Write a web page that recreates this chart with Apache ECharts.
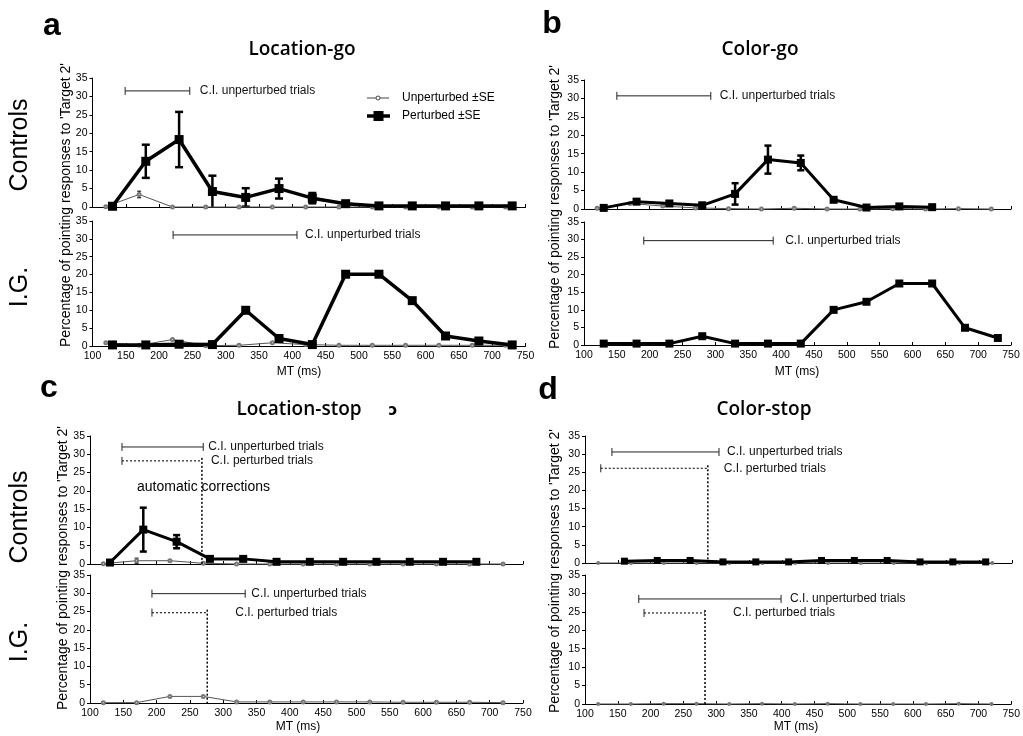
<!DOCTYPE html>
<html>
<head>
<meta charset="utf-8">
<script src="https://cdn.jsdelivr.net/npm/echarts@6/dist/echarts.min.js"></script>
<style>
  html, body { margin: 0; padding: 0; background: #fff; }
  #chart { width: 1023px; height: 736px; }
</style>
</head>
<body>
<div id="chart"></div>
<script>
// bin centres (ms)
const pertX = [130, 180, 230, 280, 330, 380, 430, 480, 530, 580, 630, 680, 730]
const unpertX = [120, 170, 220, 270, 320, 370, 420, 470, 520, 570, 620, 670, 720]
const dCtrlPertX = [160, 210, 260, 310, 360, 410, 460, 510, 560, 610, 660, 710]

// a - Location-go
const aCtrlPert = [0.2, 12.4, 18.3, 4.2, 2.6, 5.0, 2.4, 0.9, 0.3, 0.3, 0.3, 0.3, 0.3]
const aCtrlPertSE = [0, 4.5, 7.5, 4.3, 2.5, 2.7, 1.4, 0.3, 0, 0, 0, 0, 0]
const aCtrlUnpert = [0.1, 3.4, 0, 0, 0, 0, 0, 0, 0, 0, 0, 0, 0]
const aCtrlUnpertSE = [0, 0.9, 0, 0, 0, 0, 0, 0, 0, 0, 0, 0, 0]
const aIGPert = [0.3, 0.3, 0.5, 0.4, 10.0, 2.1, 0.4, 20.1, 20.1, 12.7, 2.8, 1.4, 0.3]
const aIGUnpert = [0.9, 0.2, 1.8, 0.1, 0.2, 0.9, 0.4, 0.2, 0.2, 0.2, 0.2, 0.2, 0.2]

// b - Color-go
const bCtrlPert = [0.3, 2.0, 1.5, 1.0, 4.1, 13.4, 12.5, 2.5, 0.4, 0.7, 0.5]
const bCtrlPertSE = [0, 0.6, 0.6, 0.6, 2.9, 3.8, 2.0, 0.5, 0, 0, 0]
const bCtrlUnpert = [0.2, 1.5, 0.8, 0.3, 0.1, 0, 0.2, 0, 0, 0.1, 0, 0.1, 0]
const bIGPert = [0.4, 0.4, 0.4, 2.5, 0.4, 0.4, 0.4, 10.0, 12.3, 17.5, 17.5, 4.9, 2.0]

// c - Location-stop
const cCtrlPert = [0.4, 9.4, 6.1, 1.4, 1.4, 0.6, 0.6, 0.6, 0.6, 0.6, 0.6, 0.6]
const cCtrlPertSE = [0, 6.0, 1.8, 0.4, 0.5, 0, 0, 0, 0, 0, 0, 0]
const cCtrlUnpert = [0.1, 0.9, 0.9, 0.2, 0, 0, 0, 0, 0, 0, 0, 0, 0]
const cCtrlUnpertSE = [0, 0.7, 0.3, 0, 0, 0, 0, 0, 0, 0, 0, 0, 0]
const cIGUnpert = [0.1, 0.1, 1.8, 1.8, 0.3, 0.3, 0.3, 0.3, 0.3, 0.2, 0.2, 0.2, 0.1]

// d - Color-stop
const dCtrlPert = [0.5, 0.7, 0.7, 0.3, 0.3, 0.3, 0.7, 0.7, 0.7, 0.3, 0.3, 0.3]
const dCtrlUnpert = [0, 0, 0, 0, 0, 0, 0, 0, 0, 0, 0, 0, 0]
const dIGUnpert = [0, 0, 0.1, 0.1, 0, 0.1, 0, 0.1, 0, 0, 0, 0.1, 0]

// confidence intervals (ms), per sub-plot: aCtrl, aIG, bCtrl, bIG, cCtrl, cIG, dCtrl, dIG
const ciUnpertLo = [149, 221, 150, 191, 148, 193, 141, 182]
const ciUnpertHi = [246, 407, 293, 388, 270, 333, 304, 399]
const ciPertLo = [null, null, null, null, 148, 193, 124, 190]
const ciPertHi = [null, null, null, null, 268, 276, 287, 283]

// layout of the annotation bars (y level in axis units, label gap in px)
const ciUnpertLevel = [31.5, 31.1, 30.7, 29.7, 32.0, 29.9, 30.6, 28.5]
const ciUnpertGap = [10, 8, 9, 12, 5, 6, 8, 9]
const ciPertLevel = [null, null, null, null, 28.2, 24.7, 26.1, 24.7]
const ciPertGap = [null, null, null, null, 9, 28, 16, 28]

const FONT = '"Liberation Sans", Arial, sans-serif'

const grids = [
  {left: 92.5, top: 78, width: 433, height: 129},
  {left: 92.5, top: 221, width: 433, height: 125},
  {left: 584, top: 80, width: 427, height: 129},
  {left: 584, top: 222, width: 427, height: 123},
  {left: 90, top: 436, width: 433, height: 128},
  {left: 90, top: 575, width: 433, height: 128},
  {left: 585, top: 436, width: 427, height: 127},
  {left: 585, top: 575, width: 427, height: 129}
]

const xAxes = grids.map((g, i) => ({
  type: 'value', gridIndex: i, min: 100, max: 750, interval: 50,
  axisLine: {onZero: false, lineStyle: {color: '#000', width: 1}},
  axisTick: {inside: true, length: 3, lineStyle: {color: '#000'}},
  axisLabel: {show: i % 2 === 1, fontSize: 10.5, color: '#000', fontFamily: FONT, margin: 5},
  splitLine: {show: false}
}))

const yAxes = grids.map((g, i) => ({
  type: 'value', gridIndex: i, min: 0, max: 35, interval: 5,
  axisLine: {show: true, lineStyle: {color: '#000', width: 1}},
  axisTick: {show: true, length: 3, lineStyle: {color: '#000'}},
  axisLabel: {fontSize: 10.5, color: '#000', fontFamily: FONT, margin: 5},
  splitLine: {show: false}
}))

function lineSeries (g, xs, ys, pert, size, width) {
  return {
    type: 'line', xAxisIndex: g, yAxisIndex: g, silent: true, clip: false,
    data: ys.map((y, i) => [xs[i], y]),
    symbol: pert ? 'rect' : 'emptyCircle', symbolSize: size,
    lineStyle: {color: pert ? '#000' : '#555', width: width},
    itemStyle: {color: pert ? '#000' : '#777', borderWidth: pert ? 0 : 1},
    z: pert ? 4 : 3
  }
}

function errSeries (g, xs, ys, se, lw, cap) {
  return {
    type: 'custom', xAxisIndex: g, yAxisIndex: g, silent: true, z: 2,
    data: ys.map((y, i) => [xs[i], y, se[i]]),
    encode: {x: 0, y: 1},
    renderItem: (params, api) => {
      const x = api.value(0), y = api.value(1), s = api.value(2)
      if (!s) return null
      const lo = Math.max(0, y - s)
      const t = api.coord([x, y + s])
      const b = api.coord([x, lo])
      const st = {stroke: '#000', lineWidth: lw}
      const ch = [
        {type: 'line', shape: {x1: t[0], y1: t[1], x2: b[0], y2: b[1]}, style: st},
        {type: 'line', shape: {x1: t[0] - cap / 2, y1: t[1], x2: t[0] + cap / 2, y2: t[1]}, style: st}
      ]
      if (lo > 0) ch.push({type: 'line', shape: {x1: b[0] - cap / 2, y1: b[1], x2: b[0] + cap / 2, y2: b[1]}, style: st})
      return {type: 'group', children: ch}
    }
  }
}

function ciSeries (g, lo, hi, level, dotted, text, gap) {
  return {
    type: 'custom', xAxisIndex: g, yAxisIndex: g, silent: true, z: 5,
    data: [[lo, hi, level]],
    renderItem: (params, api) => {
      const p0 = api.coord([api.value(0), api.value(2)])
      const p1 = api.coord([api.value(1), api.value(2)])
      const base = api.coord([api.value(1), 0])
      const solid = {stroke: '#222', lineWidth: 1}
      const ch = [
        {type: 'line', shape: {x1: p0[0], y1: p0[1], x2: p1[0], y2: p1[1]},
          style: dotted ? {stroke: '#222', lineWidth: 1.2, lineDash: [2, 2]} : solid},
        {type: 'line', shape: {x1: p0[0], y1: p0[1] - 4, x2: p0[0], y2: p0[1] + 4}, style: solid}
      ]
      if (dotted) {
        ch.push({type: 'line', shape: {x1: p1[0], y1: p1[1] - 3, x2: base[0], y2: base[1]},
          style: {stroke: '#000', lineWidth: 1.5, lineDash: [2, 2]}})
      } else {
        ch.push({type: 'line', shape: {x1: p1[0], y1: p1[1] - 4, x2: p1[0], y2: p1[1] + 4}, style: solid})
      }
      ch.push({type: 'text', x: p1[0] + gap, y: p1[1],
        style: {text: text, font: '12px ' + FONT, fill: '#111', textVerticalAlign: 'middle', verticalAlign: 'middle'}})
      return {type: 'group', children: ch}
    }
  }
}

const series = [
  // a
  errSeries(0, pertX, aCtrlPert, aCtrlPertSE, 2.5, 8),
  errSeries(0, unpertX, aCtrlUnpert, aCtrlUnpertSE, 1, 4),
  lineSeries(0, unpertX, aCtrlUnpert, false, 3, 1),
  lineSeries(0, pertX, aCtrlPert, true, 9, 3.5),
  lineSeries(1, unpertX, aIGUnpert, false, 3, 1),
  lineSeries(1, pertX, aIGPert, true, 9, 3.5),
  // b
  errSeries(2, pertX, bCtrlPert, bCtrlPertSE, 2.5, 7),
  lineSeries(2, unpertX, bCtrlUnpert, false, 3, 1),
  lineSeries(2, pertX, bCtrlPert, true, 8, 3),
  lineSeries(3, pertX, bIGPert, true, 8, 3),
  // c
  errSeries(4, pertX, cCtrlPert, cCtrlPertSE, 2.5, 7),
  errSeries(4, unpertX, cCtrlUnpert, cCtrlUnpertSE, 1, 4),
  lineSeries(4, unpertX, cCtrlUnpert, false, 3, 1),
  lineSeries(4, pertX, cCtrlPert, true, 8, 3),
  lineSeries(5, unpertX, cIGUnpert, false, 3, 1),
  // d
  lineSeries(6, unpertX, dCtrlUnpert, false, 2, 1),
  lineSeries(6, dCtrlPertX, dCtrlPert, true, 7, 3),
  lineSeries(7, unpertX, dIGUnpert, false, 2, 1)
]

for (let g = 0; g < 8; g++) {
  series.push(ciSeries(g, ciUnpertLo[g], ciUnpertHi[g], ciUnpertLevel[g], false, 'C.I. unperturbed trials', ciUnpertGap[g]))
  if (ciPertLo[g] !== null) {
    series.push(ciSeries(g, ciPertLo[g], ciPertHi[g], ciPertLevel[g], true, 'C.I. perturbed trials', ciPertGap[g]))
  }
}

function txt (x, y, text, font, align, rotation) {
  return {
    type: 'text', x: x, y: y, silent: true, rotation: rotation || 0,
    style: {text: text, font: font, fill: '#000', textAlign: align || 'center', textVerticalAlign: 'middle'}
  }
}

const letterFont = 'bold 32px ' + FONT
const titleFont = '600 19px "Open Sans", sans-serif'
const rowFont = '25px ' + FONT
const yNameFont = '14px ' + FONT
const xNameFont = '12px ' + FONT
const yName = 'Percentage of pointing responses to \'Target 2\''
const R = Math.PI / 2

const graphic = [
  txt(52, 26, 'a', letterFont), txt(552, 24, 'b', letterFont),
  txt(49, 388, 'c', letterFont), txt(548, 390, 'd', letterFont),
  txt(302, 50, 'Location-go', titleFont), txt(760, 50, 'Color-go', titleFont),
  txt(299, 410, 'Location-stop', titleFont), txt(764, 410, 'Color-stop', titleFont),
  txt(393, 411, 'ɔ', 'bold 15px "DejaVu Sans", sans-serif'),
  txt(20, 145, 'Controls', rowFont, 'center', R), txt(20, 287, 'I.G.', rowFont, 'center', R),
  txt(20, 517, 'Controls', rowFont, 'center', R), txt(20, 642, 'I.G.', rowFont, 'center', R),
  txt(66, 205, yName, yNameFont, 'center', R), txt(555, 207, yName, yNameFont, 'center', R),
  txt(63, 568, yName, yNameFont, 'center', R), txt(555, 571, yName, yNameFont, 'center', R),
  txt(299, 372, 'MT (ms)', xNameFont), txt(797, 372, 'MT (ms)', xNameFont),
  txt(298, 727, 'MT (ms)', xNameFont), txt(796, 727, 'MT (ms)', xNameFont),
  txt(137, 487, 'automatic corrections', '14px ' + FONT, 'left'),
  // legend
  {type: 'line', silent: true, shape: {x1: 367, y1: 98, x2: 389, y2: 98}, style: {stroke: '#444', lineWidth: 1}},
  {type: 'circle', silent: true, shape: {cx: 378, cy: 98, r: 2}, style: {fill: '#fff', stroke: '#444', lineWidth: 1}},
  {type: 'line', silent: true, shape: {x1: 367, y1: 116, x2: 390, y2: 116}, style: {stroke: '#000', lineWidth: 3.5}},
  {type: 'rect', silent: true, shape: {x: 373.5, y: 111, width: 10, height: 10}, style: {fill: '#000'}},
  txt(402, 98, 'Unperturbed ±SE', '12px ' + FONT, 'left'),
  txt(402, 116, 'Perturbed ±SE', '12px ' + FONT, 'left')
]

const chart = echarts.init(document.getElementById('chart'))
chart.setOption({
  animation: false,
  backgroundColor: '#fff',
  grid: grids,
  xAxis: xAxes,
  yAxis: yAxes,
  series: series,
  graphic: graphic
})
</script>
</body>
</html>
